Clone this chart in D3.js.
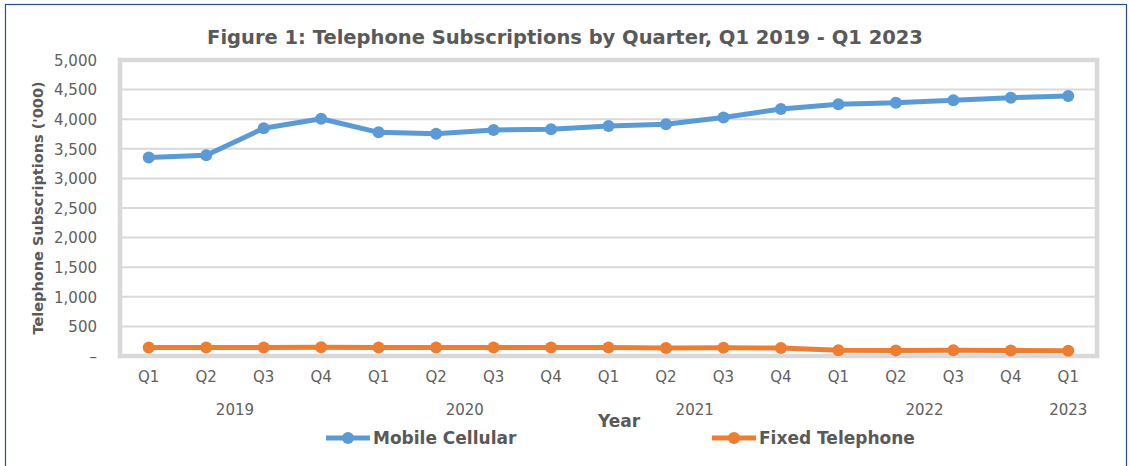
<!DOCTYPE html>
<html>
<head>
<meta charset="utf-8">
<script src="https://cdn.jsdelivr.net/npm/d3@7"></script>
<style>
  body { margin: 0; background: #fff; }
  text { font-family: "DejaVu Sans", sans-serif; fill: #595959; }
</style>
</head>
<body>
<svg id="chart"></svg>
<script>
// quarters and years
const quarters = ['Q1','Q2','Q3','Q4','Q1','Q2','Q3','Q4','Q1','Q2','Q3','Q4','Q1','Q2','Q3','Q4','Q1'];
const years = ['2019','2019','2019','2019','2020','2020','2020','2020','2021','2021','2021','2021','2022','2022','2022','2022','2023'];
// subscriptions ('000)
const mobile = [3352, 3391, 3846, 4008, 3778, 3754, 3817, 3829, 3886, 3915, 4029, 4171, 4251, 4278, 4319, 4363, 4392];
const fixed = [145, 145, 145, 146, 144, 143, 143, 142, 142, 136, 141, 134, 97, 95, 97, 91, 90];
const yTicks = [0, 500, 1000, 1500, 2000, 2500, 3000, 3500, 4000, 4500, 5000];

const series = [
  { name: 'Mobile Cellular', values: mobile, color: '#5B9BD5' },
  { name: 'Fixed Telephone', values: fixed, color: '#ED7D31' }
];

var width = 1130, height = 466;
var margin = { top: 60, right: 33, bottom: 110, left: 120 };

var svg = d3.select('#chart')
  .attr('width', width)
  .attr('height', height);

// outer frame (blue border top/left)
svg.append('rect')
  .attr('x', 5.5).attr('y', 4.5)
  .attr('width', 1121).attr('height', 470)
  .attr('fill', 'none')
  .attr('stroke', '#2F4B9B')
  .attr('stroke-width', 1.2);

var idx = d3.range(quarters.length);

var x = d3.scaleBand()
  .domain(idx)
  .range([margin.left, width - margin.right]);

var y = d3.scaleLinear()
  .domain([0, 5000])
  .range([height - margin.bottom, margin.top]);

// gridlines
svg.append('g')
  .selectAll('line')
  .data(yTicks)
  .join('line')
    .attr('x1', margin.left)
    .attr('x2', width - margin.right)
    .attr('y1', d => y(d))
    .attr('y2', d => y(d))
    .attr('stroke', '#D9D9D9')
    .attr('stroke-width', 2);

// plot area border
svg.append('rect')
  .attr('x', margin.left)
  .attr('y', margin.top)
  .attr('width', width - margin.right - margin.left)
  .attr('height', y(0) - margin.top)
  .attr('fill', 'none')
  .attr('stroke', '#D9D9D9')
  .attr('stroke-width', 4.5);

// y axis labels
var yAxis = svg.append('g')
  .attr('transform', 'translate(' + (margin.left - 20) + ',0)')
  .call(d3.axisLeft(y).tickValues(yTicks).tickSize(0)
    .tickFormat(d => d === 0 ? '–' : d3.format(',')(d)));
yAxis.select('.domain').remove();
yAxis.selectAll('text')
  .attr('dy', '0.35em')
  .style('font-family', '"DejaVu Sans", sans-serif')
  .style('font-size', '15px')
  .style('fill', '#606060');

// x axis: quarter labels
var xAxis = svg.append('g')
  .attr('transform', 'translate(0,' + y(0) + ')')
  .call(d3.axisBottom(x).tickSize(0).tickFormat(i => quarters[i]));
xAxis.select('.domain').remove();
xAxis.selectAll('text')
  .attr('y', 21)
  .attr('dy', '0.35em')
  .style('font-family', '"DejaVu Sans", sans-serif')
  .style('font-size', '15px')
  .style('fill', '#606060');

// year group labels
var yearGroups = d3.groups(idx, i => years[i]);
svg.append('g')
  .selectAll('text')
  .data(yearGroups)
  .join('text')
    .attr('x', d => (x(d[1][0]) + x(d[1][d[1].length - 1]) + x.bandwidth()) / 2)
    .attr('y', 410)
    .attr('text-anchor', 'middle')
    .attr('dy', '0.35em')
    .style('font-size', '15px')
    .style('fill', '#606060')
    .text(d => d[0]);

// lines and markers
var line = d3.line()
  .x((d, i) => x(i) + x.bandwidth() / 2)
  .y(d => y(d));

series.forEach(function(s) {
  svg.append('path')
    .datum(s.values)
    .attr('d', line)
    .attr('fill', 'none')
    .attr('stroke', s.color)
    .attr('stroke-width', 5)
    .attr('stroke-linejoin', 'round');
  svg.append('g')
    .selectAll('circle')
    .data(s.values)
    .join('circle')
      .attr('cx', (d, i) => x(i) + x.bandwidth() / 2)
      .attr('cy', d => y(d))
      .attr('r', 6)
      .attr('fill', s.color);
});

// title
svg.append('text')
  .attr('x', 565)
  .attr('y', 44)
  .attr('text-anchor', 'middle')
  .style('font-size', '19.5px')
  .style('font-weight', 'bold')
  .text('Figure 1: Telephone Subscriptions by Quarter, Q1 2019 - Q1 2023');

// axis titles
svg.append('text')
  .attr('transform', 'rotate(-90)')
  .attr('x', -208)
  .attr('y', 43)
  .attr('text-anchor', 'middle')
  .style('font-size', '14.5px')
  .style('font-weight', 'bold')
  .text("Telephone Subscriptions ('000)");

svg.append('text')
  .attr('x', 619)
  .attr('y', 427)
  .attr('text-anchor', 'middle')
  .style('font-size', '17px')
  .style('font-weight', 'bold')
  .text('Year');

// legend
var legendX = [326, 712];
var legend = svg.append('g')
  .selectAll('g')
  .data(series)
  .join('g')
    .attr('transform', (d, i) => 'translate(' + legendX[i] + ',438)');
legend.append('line')
  .attr('x1', 0).attr('x2', 44)
  .attr('stroke', d => d.color)
  .attr('stroke-width', 5);
legend.append('circle')
  .attr('cx', 22).attr('r', 6)
  .attr('fill', d => d.color);
legend.append('text')
  .attr('x', 47)
  .attr('dy', '0.35em')
  .style('font-size', '17px')
  .style('font-weight', 'bold')
  .text(d => d.name);
</script>
</body>
</html>
